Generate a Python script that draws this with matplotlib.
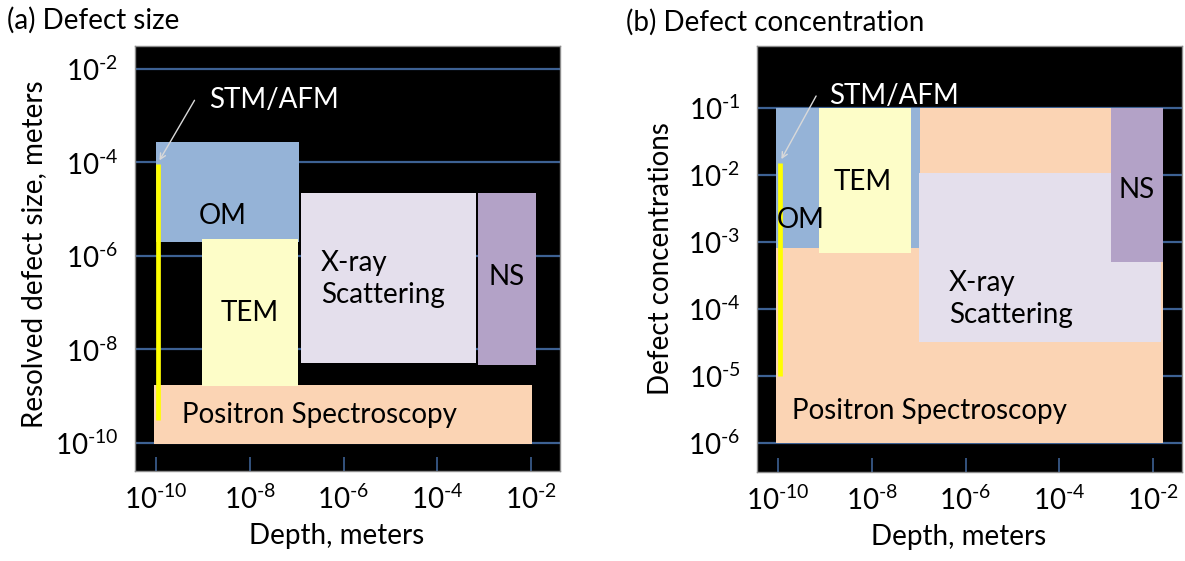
import math
import matplotlib
matplotlib.use('Agg')
import matplotlib.pyplot as plt
from matplotlib.patches import Rectangle
from matplotlib.ticker import FixedLocator, FuncFormatter, NullLocator

plt.rcParams['font.family'] = 'Lato'
plt.rcParams['mathtext.fontset'] = 'custom'
plt.rcParams['mathtext.rm'] = 'Lato'

# ---- (a) resolved defect size vs depth ----
size_methods = ['Positron Spectroscopy', 'OM', 'TEM', 'X-ray\nScattering', 'NS']
size_depth_lo = [9.1e-11, 1.0e-10, 9.5e-10, 1.23e-7, 7.4e-4]
size_depth_hi = [1.05e-2, 1.1e-7, 1.07e-7, 6.6e-4, 1.26e-2]
size_lo = [9.5e-11, 2.0e-6, 1.66e-9, 5.1e-9, 4.7e-9]
size_hi = [1.74e-9, 2.75e-4, 2.3e-6, 2.24e-5, 2.24e-5]
size_stm_depth = 1.1e-10
size_stm_range = [3.1e-10, 9.3e-5]

# ---- (b) defect concentration vs depth ----
conc_methods = ['Positron Spectroscopy', 'OM', 'TEM', 'X-ray\nScattering', 'NS']
conc_depth_lo = [9.1e-11, 9.1e-11, 7.4e-10, 1.0e-7, 1.3e-3]
conc_depth_hi = [1.6e-2, 1.05e-7, 6.8e-8, 1.45e-2, 1.6e-2]
conc_lo = [1e-6, 8.1e-4, 6.9e-4, 3.2e-5, 5.0e-4]
conc_hi = [1e-1, 1e-1, 1e-1, 1.1e-2, 1e-1]
conc_stm_depth = 1.1e-10
conc_stm_range = [1e-5, 1.5e-2]

depth_ticks = [1e-10, 1e-8, 1e-6, 1e-4, 1e-2]
size_ticks = [1e-10, 1e-8, 1e-6, 1e-4, 1e-2]
conc_ticks = [1e-6, 1e-5, 1e-4, 1e-3, 1e-2, 1e-1]

colors = {'Positron Spectroscopy': '#fbd4b4', 'OM': '#95b3d7', 'TEM': '#fdfdc8',
          'X-ray\nScattering': '#e4dfec', 'NS': '#b3a2c7'}
grid_color = '#3d6193'
label_size = 20

fig = plt.figure(figsize=(11.85, 5.61), dpi=100)
ax_a = fig.add_axes([135 / 1185, 1 - 471 / 561, 425 / 1185, 425 / 561])
ax_b = fig.add_axes([757 / 1185, 1 - 472 / 561, 425 / 1185, 426 / 561])


def exp_label(v, pos):
    # plain hyphen in the exponent, like the original slide
    return r'$\mathregular{10^{\text{-}%d}}$' % abs(round(math.log10(v)))


def style_axes(ax, yticks, ylim):
    ax.set_facecolor('black')
    ax.set_xscale('log')
    ax.set_yscale('log')
    ax.set_xlim(10 ** -10.45, 10 ** -1.38)
    ax.set_ylim(*ylim)
    ax.xaxis.set_major_locator(FixedLocator(depth_ticks))
    ax.yaxis.set_major_locator(FixedLocator(yticks))
    ax.xaxis.set_minor_locator(NullLocator())
    ax.yaxis.set_minor_locator(NullLocator())
    ax.xaxis.set_major_formatter(FuncFormatter(exp_label))
    ax.yaxis.set_major_formatter(FuncFormatter(exp_label))
    ax.grid(axis='y', color=grid_color, lw=1.6, zorder=0)
    ax.set_axisbelow(True)
    ax.tick_params(axis='x', direction='in', length=10, width=1.2, color=grid_color,
                   labelsize=label_size, pad=10)
    ax.tick_params(axis='y', length=0, labelsize=label_size, pad=12)
    for s in ax.spines.values():
        s.set_color('#8c8c8c')
        s.set_linewidth(1)
    ax.set_xlabel('Depth, meters', fontsize=label_size)
    ax.xaxis.set_label_coords(0.475, -0.152)
    ax.xaxis.label.set_va('center')


def draw_boxes(ax, names, x0, x1, y0, y1):
    for n, a, b, c, d in zip(names, x0, x1, y0, y1):
        ax.add_patch(Rectangle((a, c), b - a, d - c, facecolor=colors[n],
                               edgecolor='none', zorder=2))


# panel (a)
style_axes(ax_a, size_ticks, (10 ** -10.6, 10 ** -1.51))
draw_boxes(ax_a, size_methods, size_depth_lo, size_depth_hi, size_lo, size_hi)
ax_a.plot([size_stm_depth] * 2, size_stm_range, color='#ffff00', lw=3.4,
          solid_capstyle='butt', zorder=3)
ax_a.annotate('', xy=(size_stm_depth, 9.8e-5), xytext=(10 ** -9.15, 10 ** -2.62),
              arrowprops=dict(arrowstyle='->', color='#d9d9d9', lw=1), zorder=4)
ax_a.text(10 ** -8.87, 10 ** -2.66, 'STM/AFM', color='white', fontsize=label_size,
          va='center', ha='left', zorder=5)
ax_a.text(10 ** -8.57, 10 ** -5.14, 'OM', fontsize=label_size, ha='center', va='center', zorder=5)
ax_a.text(10 ** -8.0, 10 ** -7.22, 'TEM', fontsize=label_size, ha='center', va='center', zorder=5)
ax_a.text(10 ** -6.48, 10 ** -6.5, 'X-ray\nScattering', fontsize=label_size, ha='left',
          va='center', linespacing=1.3, zorder=5)
ax_a.text(10 ** -2.52, 10 ** -6.45, 'NS', fontsize=label_size, ha='center', va='center', zorder=5)
ax_a.text(10 ** -9.45, 10 ** -9.40, 'Positron Spectroscopy', fontsize=label_size,
          ha='left', va='center', zorder=5)
ax_a.set_ylabel('Resolved defect size, meters', fontsize=label_size)
ax_a.yaxis.set_label_coords(-0.238, 0.51)
ax_a.yaxis.label.set_va('center')

# panel (b)
style_axes(ax_b, conc_ticks, (10 ** -6.43, 10 ** -0.07))
draw_boxes(ax_b, conc_methods, conc_depth_lo, conc_depth_hi, conc_lo, conc_hi)
ax_b.plot([conc_stm_depth] * 2, conc_stm_range, color='#ffff00', lw=3.4,
          solid_capstyle='butt', zorder=3)
ax_b.annotate('', xy=(conc_stm_depth, 1.6e-2), xytext=(10 ** -9.16, 10 ** -0.78),
              arrowprops=dict(arrowstyle='->', color='#d9d9d9', lw=1), zorder=4)
ax_b.text(10 ** -8.91, 10 ** -0.81, 'STM/AFM', color='white', fontsize=label_size,
          va='center', ha='left', zorder=5)
ax_b.text(10 ** -10.03, 10 ** -2.67, 'OM', fontsize=label_size, ha='left', va='center', zorder=5)
ax_b.text(10 ** -8.2, 10 ** -2.10, 'TEM', fontsize=label_size, ha='center', va='center', zorder=5)
ax_b.text(10 ** -6.36, 10 ** -3.85, 'X-ray\nScattering', fontsize=label_size, ha='left',
          va='center', linespacing=1.3, zorder=5)
ax_b.text(10 ** -2.36, 10 ** -2.22, 'NS', fontsize=label_size, ha='center', va='center', zorder=5)
ax_b.text(10 ** -9.71, 10 ** -5.52, 'Positron Spectroscopy', fontsize=label_size,
          ha='left', va='center', zorder=5)
ax_b.set_ylabel('Defect concentrations', fontsize=label_size)
ax_b.yaxis.set_label_coords(-0.226, 0.5)
ax_b.yaxis.label.set_va('center')

fig.text(7 / 1185, 1 - 20 / 561, '(a) Defect size', fontsize=label_size, ha='left', va='center')
fig.text(626 / 1185, 1 - 22 / 561, '(b) Defect concentration', fontsize=label_size,
         ha='left', va='center')

fig.savefig('out.png', dpi=100)
